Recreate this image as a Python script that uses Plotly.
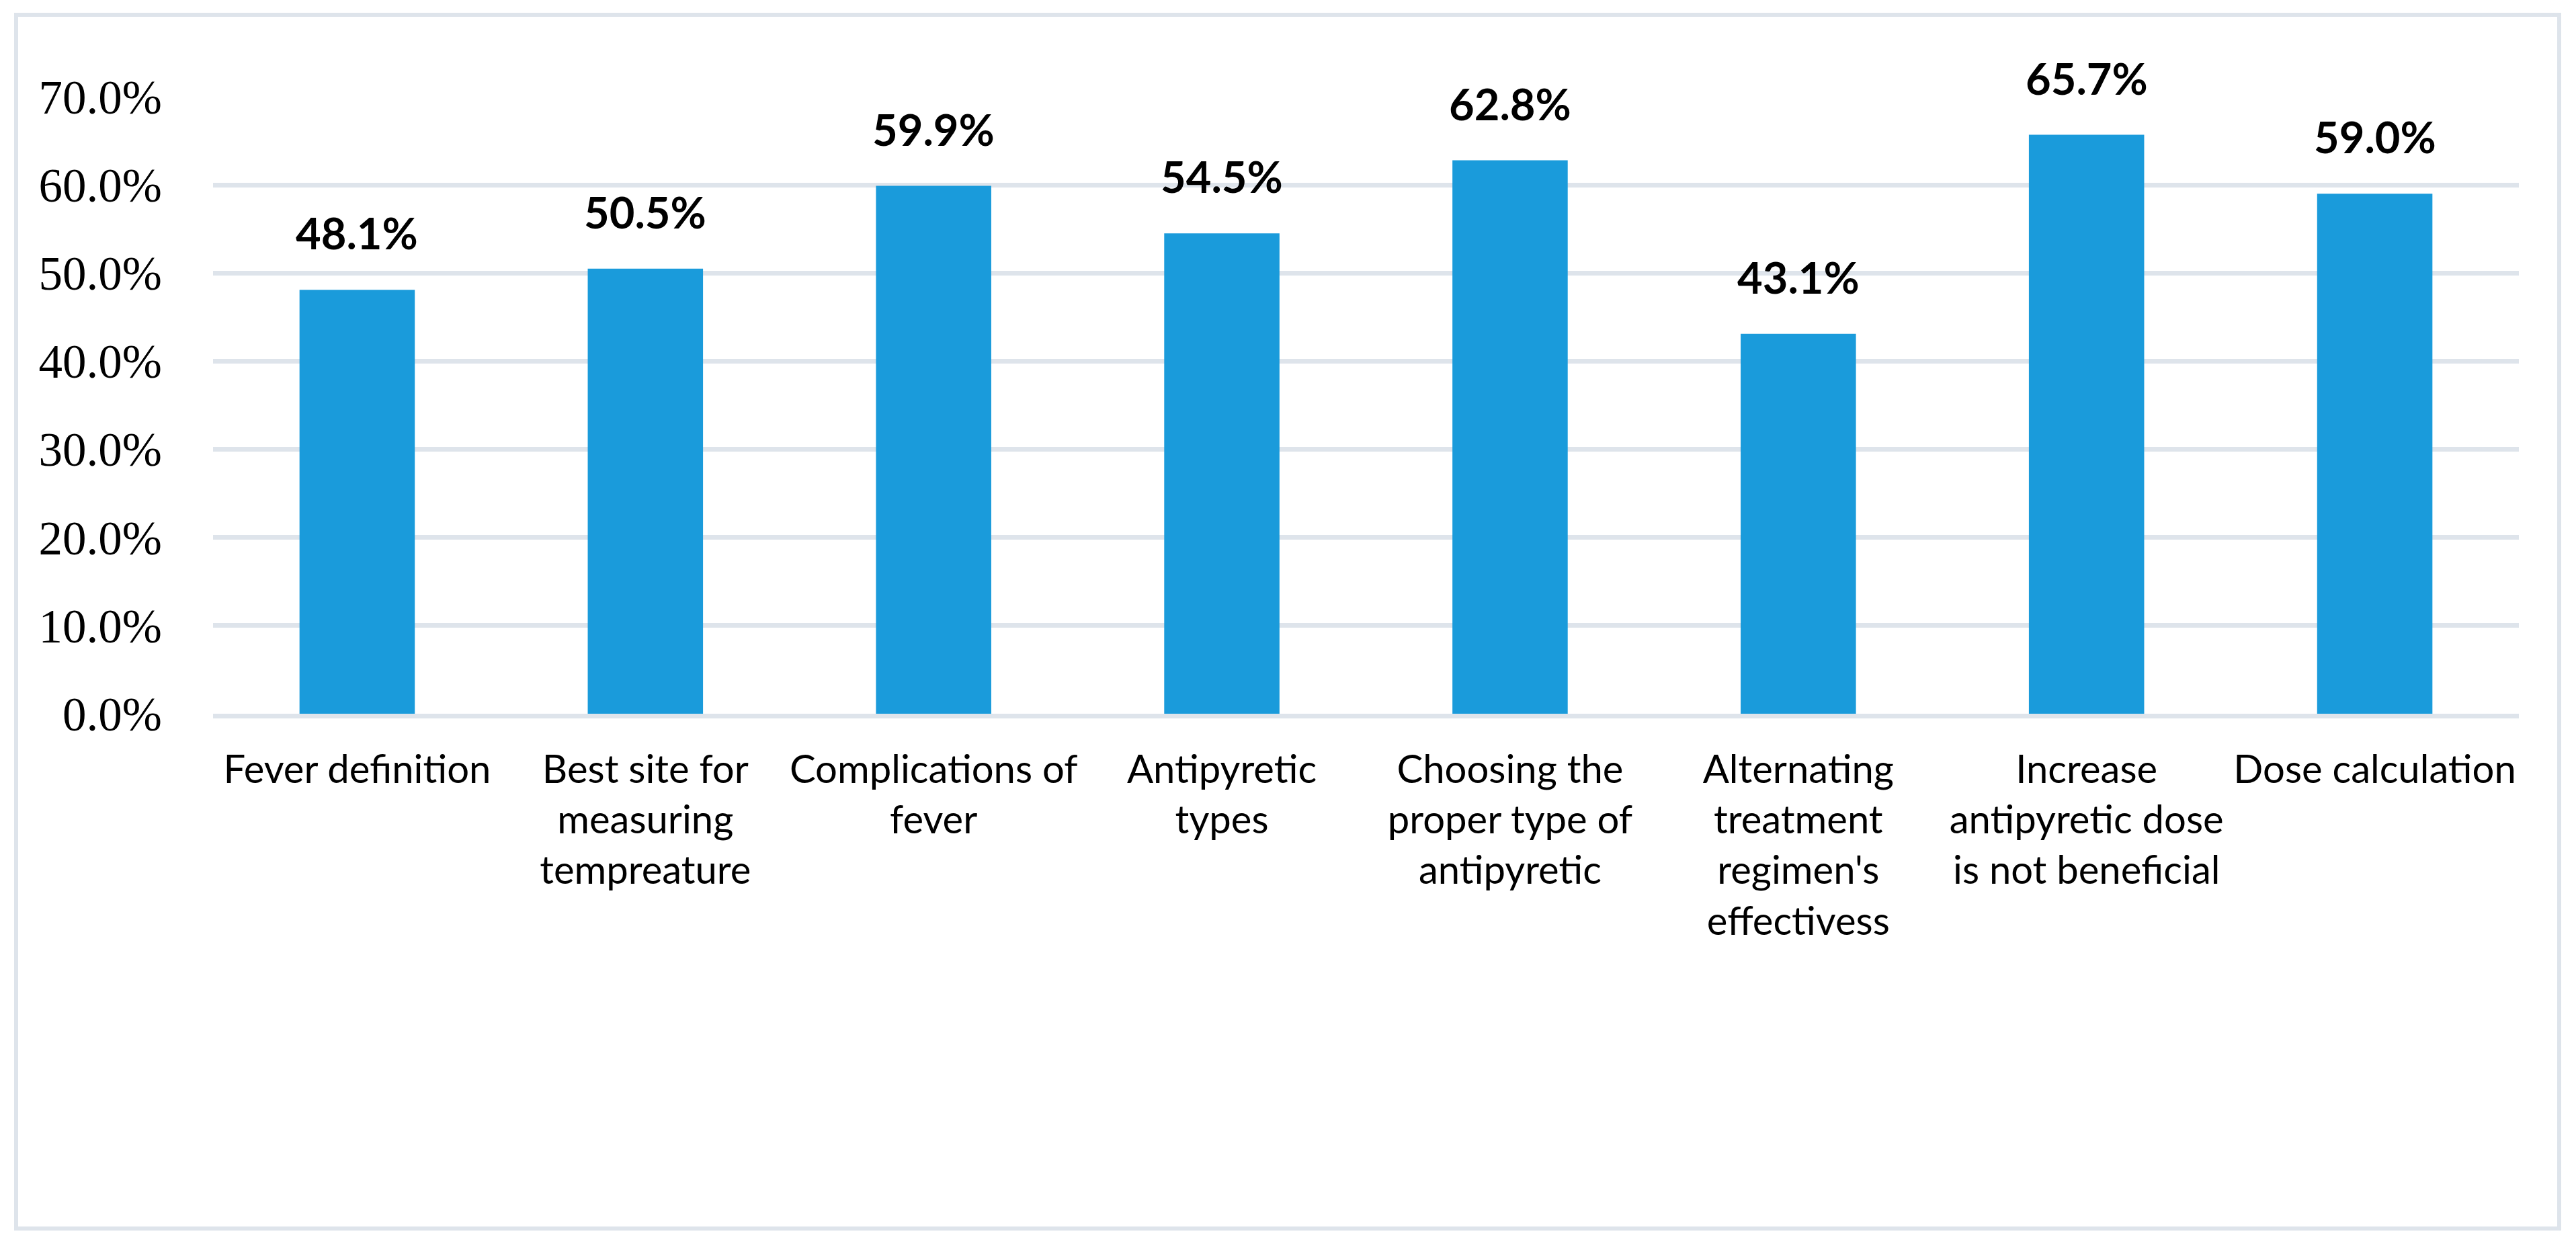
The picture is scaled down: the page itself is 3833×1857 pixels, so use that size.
import plotly.graph_objects as go

categories = [
    "Fever definition",
    "Best site for<br>measuring<br>tempreature",
    "Complications of<br>fever",
    "Antipyretic<br>types",
    "Choosing the<br>proper type of<br>antipyretic",
    "Alternating<br>treatment<br>regimen's<br>effectivess",
    "Increase<br>antipyretic dose<br>is not beneficial",
    "Dose calculation",
]
values = [48.1, 50.5, 59.9, 54.5, 62.8, 43.1, 65.7, 59.0]
y_ticks = [0, 10, 20, 30, 40, 50, 60, 70]
y_tick_labels = ["0.0%", "10.0%", "20.0%", "30.0%", "40.0%", "50.0%", "60.0%", "70.0%"]

# the page body has an 8px margin, so the figure is sized to fit inside
W, H = 3825, 1849
ML, MR, MT, MB = 309, 85, 136, 795
PW = W - ML - MR
PH = H - MT - MB

GRID = "#dee4eb"
BAR = "#1a9bdb"

fig = go.Figure()
fig.add_trace(go.Bar(
    x=categories,
    y=values,
    marker=dict(color=BAR, line=dict(width=0)),
    width=0.4,
    hoverinfo="x+y",
))

for c, v in zip(categories, values):
    fig.add_annotation(
        x=c, y=v, text=f"<b>{v:.1f}%</b>", showarrow=False,
        yanchor="bottom", yshift=44,
        font=dict(family="Lato", size=65, color="black"),
    )

# outer frame
fig.add_shape(
    type="rect", xref="paper", yref="paper",
    x0=(16 - ML) / PW, x1=(3800 - ML) / PW,
    y0=-(1820 - (H - MB)) / PH, y1=1 + (MT - 14) / PH,
    line=dict(color=GRID, width=6), fillcolor="rgba(0,0,0,0)", layer="below",
)

fig.update_layout(
    width=W, height=H,
    margin=dict(l=ML, r=MR, t=MT, b=MB, pad=0),
    paper_bgcolor="white", plot_bgcolor="white",
    showlegend=False,
    bargap=0.6,
)
fig.update_xaxes(
    showgrid=False, showline=True, linecolor=GRID, linewidth=7,
    ticks="", ticklabelstandoff=26,
    tickfont=dict(family="Lato", size=58, color="black"),
    tickangle=0,
)
fig.update_yaxes(
    range=[0, 70.01], tickvals=y_ticks, ticktext=y_tick_labels,
    showgrid=True, gridcolor=GRID, gridwidth=7,
    zeroline=False, showline=False, ticks="",
    ticklabelstandoff=75,
    tickfont=dict(family="Liberation Serif", size=71, color="black"),
)

fig.write_html("out.html")
